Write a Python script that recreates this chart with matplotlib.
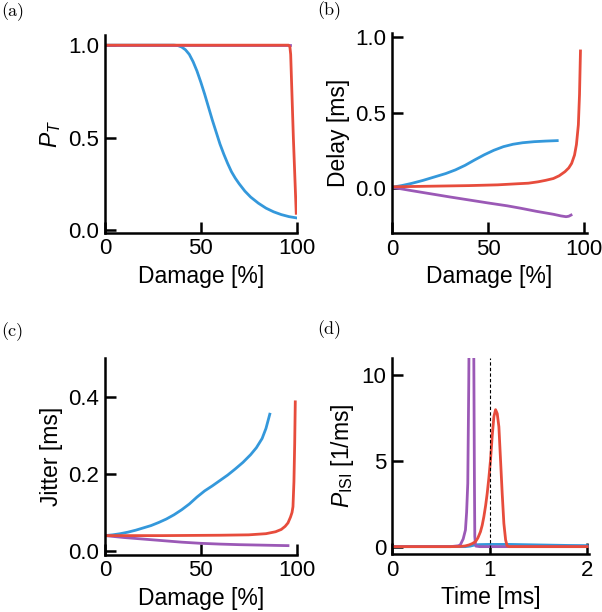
import matplotlib
matplotlib.use("Agg")
import matplotlib.pyplot as plt

plt.rcParams['font.family'] = ['Liberation Sans', 'DejaVu Sans']
plt.rcParams['mathtext.fontset'] = 'custom'
plt.rcParams['mathtext.rm'] = 'Liberation Sans'
plt.rcParams['mathtext.it'] = 'Liberation Sans:italic'
plt.rcParams['mathtext.bf'] = 'Liberation Sans:bold'

BLUE = '#3498db'
RED = '#e74c3c'
PURPLE = '#9b59b6'

# ---------------- (a) transmission probability ----------------
a_blue_x = [0, 30, 36, 38, 40, 42, 44, 46, 48, 50, 52, 54, 56, 58, 60, 62, 64, 66, 68, 70,
            73, 76, 80, 84, 88, 92, 96, 100]
a_blue_y = [1.0, 1.0, 1.0, 0.998, 0.99, 0.975, 0.95, 0.91, 0.86, 0.80, 0.735, 0.665, 0.595, 0.53,
            0.465, 0.41, 0.36, 0.315, 0.28, 0.25, 0.21, 0.178, 0.145, 0.118, 0.098, 0.083, 0.072, 0.065]
a_red_x = [0, 95.8, 96.5, 96.9, 98.3, 99.8]
a_red_y = [1.0, 1.0, 0.99, 0.95, 0.5, 0.09]
a_purple_x = [0, 96.5]
a_purple_y = [1.0, 1.0]

# ---------------- (b) delay ----------------
b_blue_x = [0, 5, 10, 16, 22, 28, 33, 38, 43, 48, 53, 58, 63, 68, 74, 80, 86]
b_blue_y = [0.007, 0.018, 0.032, 0.052, 0.075, 0.098, 0.122, 0.152, 0.188, 0.222, 0.252, 0.276, 0.292, 0.302, 0.309, 0.313, 0.316]
b_red_x = [0, 20, 40, 55, 65, 71, 76, 80, 84, 87, 90, 92, 93.5, 95, 96, 97, 97.6, 98.1]
b_red_y = [0.01, 0.014, 0.018, 0.023, 0.03, 0.034, 0.043, 0.053, 0.065, 0.083, 0.11, 0.135, 0.165, 0.22, 0.29, 0.42, 0.62, 0.91]
b_purple_x = [0, 10, 20, 30, 40, 50, 60, 67, 75, 84, 88, 90.6, 92, 93.2]
b_purple_y = [0.007, -0.015, -0.036, -0.057, -0.077, -0.097, -0.116, -0.132, -0.152, -0.172, -0.183, -0.188, -0.185, -0.177]

# ---------------- (c) jitter ----------------
c_blue_x = [0, 4, 8, 12, 16, 20, 24, 28, 32, 36, 40, 44, 48, 52, 56, 60, 64, 68, 72, 76,
            79, 82, 84, 86]
c_blue_y = [0.040, 0.042, 0.045, 0.049, 0.054, 0.060, 0.066, 0.074, 0.083, 0.094, 0.107, 0.122,
            0.140, 0.156, 0.169, 0.183, 0.197, 0.213, 0.23, 0.25, 0.268, 0.292, 0.318, 0.355]
c_red_x = [0, 30, 60, 75, 84, 89, 92, 94, 95.5, 96.8, 97.6, 98.1, 98.6, 99.0, 99.3]
c_red_y = [0.040, 0.040, 0.041, 0.042, 0.045, 0.050, 0.056, 0.064, 0.073, 0.088, 0.10, 0.115, 0.18, 0.28, 0.387]
c_purple_x = [0, 10, 20, 30, 40, 50, 60, 70, 80, 90, 95.5]
c_purple_y = [0.040, 0.035, 0.031, 0.027, 0.023, 0.020, 0.018, 0.0165, 0.0155, 0.0145, 0.014]

# ---------------- (d) ISI distribution ----------------
d_blue_t = [0, 0.75, 0.8, 0.85, 0.9, 1.0, 1.2, 1.4, 1.6, 1.8, 2.0]
d_blue_p = [0, 0, 0.03, 0.1, 0.12, 0.13, 0.13, 0.11, 0.09, 0.07, 0.06]
d_red_t = [0, 0.6, 0.70, 0.75, 0.79, 0.82, 0.856, 0.88, 0.907, 0.925, 0.942, 0.96, 0.976, 0.993, 1.01,
           1.028, 1.045, 1.062, 1.079, 1.096, 1.113, 1.13, 1.147, 1.165, 1.18, 1.2, 1.3, 2.0]
d_red_p = [0, 0, 0.01, 0.04, 0.1, 0.17, 0.29, 0.5, 0.87, 1.25, 1.75, 2.4, 3.1, 4.0, 5.05,
           6.5, 7.6, 8.0, 7.77, 7.0, 5.05, 3.1, 1.36, 0.39, 0.05, 0, 0, 0]
d_purple_t = [0, 0.6, 0.68, 0.70, 0.73, 0.753, 0.765, 0.777, 0.787, 0.795, 0.80, 0.81, 0.82, 0.83,
              0.838, 0.845, 0.849, 0.855, 0.86, 0.9, 2.0]
d_purple_p = [0, 0, 0.05, 0.1, 0.45, 0.97, 2.0, 3.7, 9.5, 16, 22, 28, 27, 20,
              12, 4, 0.6, 0.15, 0.03, 0, 0]

damage_ticks = [0, 50, 100]
LW = 2.0
FS = 16.5
TFS = 16

fig = plt.figure(figsize=(6.02, 6.12), dpi=100)

def style(ax):
    for s in ['top', 'right']:
        ax.spines[s].set_visible(False)
    for s in ['left', 'bottom']:
        ax.spines[s].set_linewidth(1.8)
    ax.tick_params(direction='in', length=8, width=1.8, labelsize=TFS, pad=4)

# (a)
axa = fig.add_axes([105/602, 1-232.7/612, 192/602, 197.7/612])
axa.plot(a_blue_x, a_blue_y, color=BLUE, lw=LW)
axa.plot(a_purple_x, a_purple_y, color=PURPLE, lw=LW)
axa.plot(a_red_x, a_red_y, color=RED, lw=LW)
axa.set_xlim(0, 100.2)
axa.set_ylim(-0.015, 1.055)
axa.set_xticks(damage_ticks)
axa.set_yticks([0, 0.5, 1.0])
axa.set_xlabel('Damage [%]', fontsize=FS)
axa.set_ylabel('$P_T$', fontsize=FS)
style(axa)

# (b)
axb = fig.add_axes([392/602, 1-233.3/612, 195/602, 200/612])
axb.plot(b_blue_x, b_blue_y, color=BLUE, lw=LW)
axb.plot(b_purple_x, b_purple_y, color=PURPLE, lw=LW)
axb.plot(b_red_x, b_red_y, color=RED, lw=LW)
axb.set_xlim(0, 101.5)
axb.set_ylim(-0.298, 1.027)
axb.set_xticks(damage_ticks)
axb.set_yticks([0, 0.5, 1.0])
axb.set_xlabel('Damage [%]', fontsize=FS)
axb.set_ylabel('Delay [ms]', fontsize=FS)
style(axb)

# (c)
axc = fig.add_axes([105/602, 1-554.5/612, 192/602, 196.2/612])
axc.plot(c_blue_x, c_blue_y, color=BLUE, lw=LW)
axc.plot(c_purple_x, c_purple_y, color=PURPLE, lw=LW)
axc.plot(c_red_x, c_red_y, color=RED, lw=LW)
axc.set_xlim(0, 100.2)
axc.set_ylim(-0.009, 0.5)
axc.set_xticks(damage_ticks)
axc.set_yticks([0, 0.2, 0.4])
axc.set_xlabel('Damage [%]', fontsize=FS)
axc.set_ylabel('Jitter [ms]', fontsize=FS)
style(axc)

# (d)
axd = fig.add_axes([392/602, 1-554/612, 197/602, 195.7/612])
axd.plot(d_blue_t, d_blue_p, color=BLUE, lw=LW)
axd.plot(d_purple_t, d_purple_p, color=PURPLE, lw=LW)
axd.plot(d_red_t, d_red_p, color=RED, lw=LW)
axd.axvline(1.0, color='k', ls=(0, (3, 2)), lw=0.8)
axd.set_xlim(0, 2.02)
axd.set_ylim(-0.43, 11)
axd.set_xticks([0, 1, 2])
axd.set_yticks([0, 5, 10])
axd.set_xlabel('Time [ms]', fontsize=FS)
axd.set_ylabel(r'$P_{\mathrm{ISI}}$ [1/ms]', fontsize=FS)
style(axd)

for x, y, t in [(0.002, 1-12/612, '(a)'), (317/602, 1-11/612, '(b)'),
                (0.002, 1-332/612, '(c)'), (317/602, 1-330/612, '(d)')]:
    fig.text(x, y, t, fontfamily='cmr10', fontsize=13, va='center', ha='left')

fig.savefig('out.png', dpi=100)
